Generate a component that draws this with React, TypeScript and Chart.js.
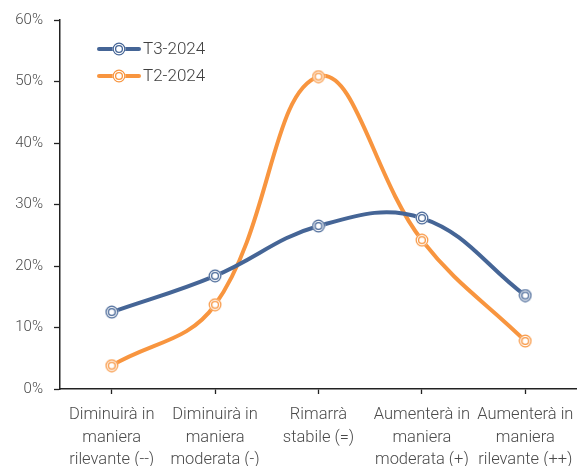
import React, { useEffect, useRef } from "react";
import { Chart, registerables } from "chart.js";

Chart.register(...registerables);

const categories: string[][] = [
  ["Diminuirà in", "maniera", "rilevante (--)"],
  ["Diminuirà in", "maniera", "moderata (-)"],
  ["Rimarrà", "stabile (=)"],
  ["Aumenterà in", "maniera", "moderata (+)"],
  ["Aumenterà in", "maniera", "rilevante (++)"],
];
const seriesT3: number[] = [12.5, 18.4, 26.5, 27.8, 15.2];
const seriesT2: number[] = [3.8, 13.7, 50.8, 24.2, 7.8];
const seriesNames = ["T3-2024", "T2-2024"];
const yTicks = { min: 0, max: 60, step: 10 };

const BLUE = "#456596";
const ORANGE = "#F8953F";
const TEXT = "#4a4a4a";

function makeMarker(color: string): HTMLCanvasElement {
  const c = document.createElement("canvas");
  c.width = 14;
  c.height = 14;
  const ctx = c.getContext("2d")!;
  ctx.fillStyle = "#ffffff";
  ctx.beginPath();
  ctx.arc(7, 7, 6.5, 0, Math.PI * 2);
  ctx.fill();
  ctx.strokeStyle = color;
  ctx.lineWidth = 1.2;
  ctx.beginPath();
  ctx.arc(7, 7, 5.8, 0, Math.PI * 2);
  ctx.stroke();
  ctx.lineWidth = 1.3;
  ctx.beginPath();
  ctx.arc(7, 7, 3.4, 0, Math.PI * 2);
  ctx.stroke();
  return c;
}

export default function App() {
  const ref = useRef<HTMLCanvasElement | null>(null);
  useEffect(() => {
    if (!ref.current) return;
    const mBlue = makeMarker(BLUE);
    const mOrange = makeMarker(ORANGE);
    const legendPlugin = {
      id: "customLegend",
      afterDraw(chart: any) {
        const ctx = chart.ctx;
        const items = [
          { name: seriesNames[0], color: BLUE, m: mBlue, y: 49 },
          { name: seriesNames[1], color: ORANGE, m: mOrange, y: 76 },
        ];
        ctx.save();
        for (const it of items) {
          ctx.strokeStyle = it.color;
          ctx.lineWidth = 4;
          ctx.lineCap = "round";
          ctx.beginPath();
          ctx.moveTo(99, it.y);
          ctx.lineTo(139, it.y);
          ctx.stroke();
          ctx.drawImage(it.m, 119 - 7, it.y - 7);
          ctx.fillStyle = "#404040";
          ctx.font = "300 17px Roboto";
          ctx.textBaseline = "middle";
          ctx.textAlign = "left";
          ctx.fillText(it.name, 143, it.y + 1);
        }
        ctx.restore();
      },
    };
    const chart = new Chart(ref.current, {
      type: "line",
      data: {
        labels: categories,
        datasets: [
          {
            label: seriesNames[0],
            data: seriesT3,
            borderColor: BLUE,
            borderWidth: 4,
            tension: 0.4,
            pointStyle: mBlue as any,
            pointRadius: 7,
            pointHoverRadius: 7,
            clip: false as any,
          },
          {
            label: seriesNames[1],
            data: seriesT2,
            borderColor: ORANGE,
            borderWidth: 4,
            tension: 0.4,
            pointStyle: mOrange as any,
            pointRadius: 7,
            pointHoverRadius: 7,
            clip: false as any,
          },
        ],
      },
      options: {
        responsive: false,
        animation: false,
        events: [],
        layout: { autoPadding: false, padding: { top: 20, right: 0, left: 0, bottom: 0 } },
        plugins: { legend: { display: false }, tooltip: { enabled: false } },
        scales: {
          x: {
            offset: true,
            grid: {
              offset: false,
              drawOnChartArea: false,
              drawTicks: true,
              tickLength: 5,
              tickColor: "#222",
              tickWidth: 1.3,
            },
            border: { color: "#222", width: 1.5 },
            ticks: {
              color: TEXT,
              font: { family: "Roboto", size: 16.5, weight: "300" as any, lineHeight: 1.36 },
              padding: 10,
              maxRotation: 0,
              autoSkip: false,
            },
            afterFit(scale: any) {
              scale.height = 77;
              scale.paddingLeft = 0;
              scale.paddingRight = 0;
            },
          },
          y: {
            min: yTicks.min,
            max: yTicks.max,
            grid: {
              drawOnChartArea: false,
              tickLength: 6,
              tickColor: "#222",
              tickWidth: 1.3,
            },
            border: { color: "#222", width: 1.5 },
            ticks: {
              stepSize: yTicks.step,
              color: TEXT,
              font: { family: "Roboto", size: 15, weight: "300" as any },
              padding: 11,
              callback: (v: any) => v + "%",
            },
            afterFit(scale: any) {
              scale.width = 60;
              scale.paddingTop = 0;
              scale.paddingBottom = 0;
            },
          },
        },
      },
      plugins: [legendPlugin],
    });
    return () => chart.destroy();
  }, []);
  return (
    <div style={{ position: "absolute", left: 0, top: 0, width: 577, height: 466, background: "#fff" }}>
      <canvas ref={ref} width={577} height={466} style={{ display: "block" }} />
    </div>
  );
}
